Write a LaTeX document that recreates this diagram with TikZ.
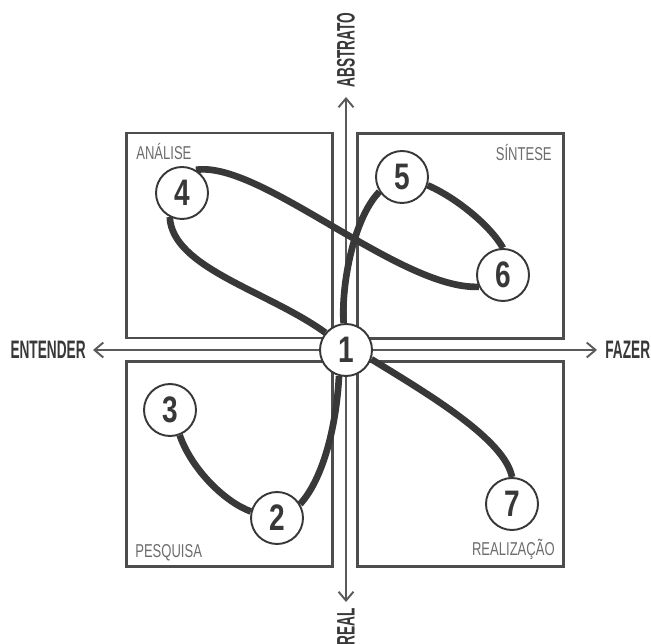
\documentclass[tikz,border=0pt]{standalone}
\usepackage{fontspec}
\setmainfont{Liberation Sans}
\newfontfamily\numfont[FakeStretch=0.76]{Liberation Sans}
\newfontfamily\axfont[FakeStretch=0.54]{Liberation Sans}
\newfontfamily\quadfont[FakeStretch=0.7]{Liberation Sans}
\usetikzlibrary{arrows.meta,backgrounds}
\definecolor{ink}{HTML}{383838}
\definecolor{edge}{HTML}{4D4D4D}
\definecolor{axgray}{HTML}{5A5A5A}
\definecolor{lblgray}{HTML}{6C6C6C}

\begin{document}
\begin{tikzpicture}[x=0.02cm, y=-0.02cm,
  quad/.style={draw=edge, line width=1.3pt, rectangle, minimum width=4.12cm,
               minimum height=4.1cm, inner sep=0pt},
  num/.style={draw=ink, fill=white, circle, line width=1.1pt, minimum size=1.04cm,
              inner sep=0pt, text=ink, font=\numfont\bfseries\fontsize{21}{22}\selectfont},
  lbl/.style={text=lblgray, inner sep=0pt, font=\quadfont\fontsize{10.6}{11}\selectfont},
  ax/.style={text=ink, inner sep=0pt, font=\axfont\bfseries\fontsize{14.4}{15}\selectfont},
  ar/.style={draw=axgray, line width=1.1pt,
             {Straight Barb[length=5pt,width=8.5pt]}-{Straight Barb[length=5pt,width=8.5pt]}},
  lp/.style={draw=ink, line width=3.8pt}]

\useasboundingbox (0,0) rectangle (651,644);

%% --- Stages ---
\node[num] (n1) at (346,350) {1};
\node[num] (n2) at (277,518) {2};
\node[num] (n3) at (170,410) {3};
\node[num] (n4) at (182,193) {4};
\node[num] (n5) at (402,177) {5};
\node[num] (n6) at (503,275) {6};
\node[num] (n7) at (512,504) {7};

%% --- Axis labels ---
\node[ax, anchor=east] (ent) at (86,350) {ENTENDER};
\node[ax, anchor=west] (faz) at (605,350) {FAZER};
\node[ax, rotate=90, anchor=west] (abs) at (346,88) {ABSTRATO};
\node[ax, rotate=90, anchor=east] (rea) at (346,608) {REAL};

%% --- Quadrant labels ---
\node[lbl, anchor=base west] (tAna) at (136,160) {ANÁLISE};
\node[lbl, anchor=base east] (tSin) at (552,161) {SÍNTESE};
\node[lbl, anchor=base west] (tPes) at (135,557) {PESQUISA};
\node[lbl, anchor=base east] (tRea) at (555,555) {REALIZAÇÃO};

%% --- Boxes, axes and the path (under the circles) ---
\begin{scope}[on background layer]
  \node[quad] (qAna) at (229.5,235.5) {};
  \node[quad] (qSin) at (460.5,236) {};
  \node[quad] (qPes) at (229.5,464) {};
  \node[quad] (qRea) at (460.5,464) {};

  \coordinate (west)  at (93,350);
  \coordinate (east)  at (597,350);
  \coordinate (north) at (346,97);
  \coordinate (south) at (346,602);
  \draw[ar] (west)  -- (east);
  \draw[ar] (south) -- (north);

  \draw[lp] (n1.140) .. controls (268,291) and (172,268) .. (n4.243);
  \draw[lp] (n4.59)  .. controls (260,160) and (400,290) .. (n6.206);
  \draw[lp] (n6.90)  .. controls (490,225) and (455,197) .. (n5.342);
  \draw[lp] (n5.213) .. controls (352,220) and (341,290) .. (n1.95);
  \draw[lp] (n1.255) .. controls (336,430) and (322,480) .. (n2.31);
  \draw[lp] (n2.166) .. controls (225,502) and (192,470) .. (n3.291);
  \draw[lp] (n1.340) .. controls (430,395) and (505,440) .. (n7.90);
\end{scope}
\end{tikzpicture}
\end{document}
